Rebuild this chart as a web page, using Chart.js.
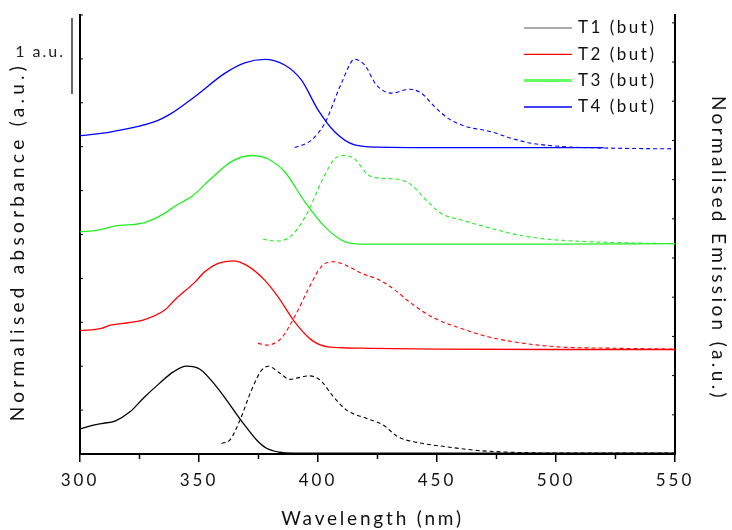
<!DOCTYPE html>
<html>
<head>
<meta charset="utf-8">
<script src="https://cdn.jsdelivr.net/npm/chart.js@4.4.1/dist/chart.umd.min.js"></script>
<style>
  html, body { margin: 0; padding: 0; background: #fff; }
  canvas { display: block; }
</style>
</head>
<body>
<canvas id="spectraCanvas" width="732" height="530"></canvas>
<script>
// series names + colours
const seriesNames = ['T1 (but)', 'T2 (but)', 'T3 (but)', 'T4 (but)'];
const seriesColors = ['#000000', '#ff0000', '#22ee22', '#0000ff'];
const legendColors = ['#555555', '#ff0000', '#66ff66', '#0000ff'];
const legendWidths = [1.2, 1.2, 3, 1.5];

// axis titles
const xTitle = 'Wavelength (nm)';
const yTitle = 'Normalised absorbance (a.u.)';
const y2Title = 'Normalised Emission (a.u.)';

// absorption (solid) - wavelength (nm) / offset normalised absorbance
const t1AbsX = [300, 305.6, 309.7, 314.7, 321, 326.6, 333.6, 339.2, 344.8, 350.4, 357.4, 363, 368.6, 374.2, 378.4, 384, 390, 400, 450, 500, 550];
const t1AbsY = [0.57, 0.66, 0.70, 0.75, 0.96, 1.27, 1.62, 1.87, 2.0, 1.93, 1.53, 1.12, 0.70, 0.32, 0.13, 0.04, 0.02, 0.02, 0.02, 0.02, 0.02];
const t2AbsX = [300, 309, 311.8, 320.2, 326.5, 335.6, 339.8, 348.2, 352.4, 358, 364.3, 370.6, 377.6, 383.2, 390.2, 397.2, 404.2, 418.2, 450, 500, 550];
const t2AbsY = [2.81, 2.86, 2.92, 2.99, 3.05, 3.28, 3.51, 3.91, 4.15, 4.34, 4.40, 4.28, 3.96, 3.58, 3.01, 2.60, 2.44, 2.41, 2.39, 2.38, 2.38];
const t3AbsX = [300, 307.6, 314.6, 327.2, 334.2, 341.2, 346.8, 355.2, 363.6, 372, 379, 386, 394.4, 402.8, 411.2, 419.6, 450, 500, 550];
const t3AbsY = [5.06, 5.10, 5.19, 5.27, 5.44, 5.69, 5.86, 6.28, 6.66, 6.80, 6.72, 6.43, 5.75, 5.18, 4.84, 4.78, 4.78, 4.78, 4.79];
const t4AbsX = [300, 313.2, 331.4, 338.4, 348.2, 360.8, 369.2, 377.6, 386, 393, 400, 407, 415.4, 425.2, 450, 490, 520];
const t4AbsY = [7.25, 7.34, 7.57, 7.76, 8.14, 8.67, 8.91, 8.99, 8.86, 8.52, 7.84, 7.34, 7.04, 6.99, 6.98, 6.98, 6.98];

// emission (dashed)
const t1EmX = [359.5, 363, 367.2, 372.1, 376.3, 379.1, 384, 388.2, 392, 395.9, 400.8, 406.4, 412, 420.5, 427.4, 433.6, 442, 453.2, 467.2, 481.2, 500, 525, 550];
const t1EmY = [0.24, 0.32, 0.77, 1.46, 1.91, 2.0, 1.84, 1.70, 1.74, 1.78, 1.69, 1.31, 1.0, 0.81, 0.66, 0.39, 0.26, 0.17, 0.08, 0.04, 0.02, 0.02, 0.02];
const t2EmX = [374.8, 378.3, 384.6, 390.2, 395.8, 401.4, 406.3, 411.2, 418.2, 426, 432.2, 439.2, 449, 460.2, 471.4, 484, 500.8, 523.2, 550];
const t2EmY = [2.52, 2.48, 2.64, 3.13, 3.74, 4.27, 4.38, 4.31, 4.12, 3.96, 3.74, 3.43, 3.09, 2.86, 2.67, 2.54, 2.44, 2.41, 2.39];
const t3EmX = [376.9, 382.5, 388.8, 395.8, 401.4, 407, 410.5, 415.4, 421, 426.6, 433.6, 439.2, 444.8, 451.8, 460.2, 472.8, 484, 495.2, 512, 530, 550];
const t3EmY = [4.89, 4.85, 4.97, 5.52, 6.20, 6.72, 6.80, 6.72, 6.36, 6.28, 6.26, 6.13, 5.82, 5.48, 5.33, 5.14, 4.99, 4.90, 4.84, 4.81, 4.79];
const t4EmX = [390.2, 397.2, 402.8, 409.8, 415.4, 419.6, 424.5, 430.8, 438.5, 443.4, 449, 454.6, 461.6, 472.8, 481.2, 489.6, 503.7, 520, 550];
const t4EmY = [6.98, 7.15, 7.53, 8.44, 8.99, 8.86, 8.41, 8.22, 8.31, 8.22, 7.91, 7.65, 7.47, 7.34, 7.19, 7.08, 7.00, 6.97, 6.95];

// "1 a.u." scale bar, in absorbance-axis units
const scaleBar = [8.2, 9.93];
const scaleBarLabel = '1 a.u.';

const FONT = 'Lato, "Open Sans", sans-serif';
const TICK_SPACING = '3px';

function toPoints(xs, ys) {
  return xs.map((x, i) => ({ x: x, y: ys[i] }));
}

const absSets = [[t1AbsX, t1AbsY], [t2AbsX, t2AbsY], [t3AbsX, t3AbsY], [t4AbsX, t4AbsY]];
const emSets = [[t1EmX, t1EmY], [t2EmX, t2EmY], [t3EmX, t3EmY], [t4EmX, t4EmY]];

const datasets = [];
absSets.forEach((s, i) => {
  datasets.push({
    label: seriesNames[i],
    data: toPoints(s[0], s[1]),
    borderColor: seriesColors[i],
    borderWidth: 1.3,
    pointRadius: 0,
    cubicInterpolationMode: 'monotone',
    fill: false
  });
});
emSets.forEach((s, i) => {
  datasets.push({
    label: seriesNames[i] + ' emission',
    data: toPoints(s[0], s[1]),
    borderColor: seriesColors[i],
    borderWidth: 1.1,
    borderDash: [4, 3],
    pointRadius: 0,
    cubicInterpolationMode: 'monotone',
    fill: false
  });
});

// letter spacing on the canvas (canvas state gets reset on resize)
const spacingPlugin = {
  id: 'spacing',
  beforeUpdate(chart) { chart.ctx.letterSpacing = TICK_SPACING; },
  beforeLayout(chart) { chart.ctx.letterSpacing = TICK_SPACING; },
  beforeDraw(chart) { chart.ctx.letterSpacing = TICK_SPACING; }
};

function spacedText(ctx, text, x, y, rot, size, spacing) {
  ctx.save();
  ctx.translate(x, y);
  ctx.rotate(rot);
  ctx.font = size + 'px ' + FONT;
  ctx.letterSpacing = spacing;
  ctx.fillStyle = '#111';
  ctx.textAlign = 'center';
  ctx.textBaseline = 'middle';
  ctx.fillText(text, 0, 0);
  ctx.restore();
}

// titles, small inner ticks on y axes, short minor ticks on x, scale bar, legend
const extrasPlugin = {
  id: 'extras',
  afterDraw(chart) {
    const ctx = chart.ctx;
    const area = chart.chartArea;
    const xs = chart.scales.x, ys = chart.scales.y, y2 = chart.scales.y2;

    spacedText(ctx, xTitle, (area.left + area.right) / 2 - 5, 519, 0, 19, '2.8px');
    spacedText(ctx, yTitle, 18, (area.top + area.bottom) / 2 + 7, -Math.PI / 2, 19, '4.3px');
    spacedText(ctx, y2Title, 718, (area.top + area.bottom) / 2 + 14, Math.PI / 2, 19, '3.4px');

    ctx.save();
    ctx.strokeStyle = '#000';
    ctx.lineWidth = 1;
    for (let v = ys.min; v <= ys.max; v++) {
      const py = ys.getPixelForValue(v);
      ctx.beginPath(); ctx.moveTo(area.left, py); ctx.lineTo(area.left + 3, py); ctx.stroke();
    }
    for (let v = y2.min; v <= y2.max; v++) {
      const py = y2.getPixelForValue(v);
      ctx.beginPath(); ctx.moveTo(area.right, py); ctx.lineTo(area.right - 3, py); ctx.stroke();
    }
    ctx.lineWidth = 1.5;
    for (let v = xs.min + 25; v < xs.max; v += 50) {
      const px = xs.getPixelForValue(v);
      ctx.beginPath(); ctx.moveTo(px, area.bottom); ctx.lineTo(px, area.bottom + 5); ctx.stroke();
    }

    // scale bar
    const bx = area.left - 8;
    const b0 = ys.getPixelForValue(scaleBar[0]);
    const b1 = ys.getPixelForValue(scaleBar[1]);
    ctx.lineWidth = 1.2;
    ctx.beginPath(); ctx.moveTo(bx, b0); ctx.lineTo(bx, b1); ctx.stroke();
    ctx.font = '16px ' + FONT;
    ctx.letterSpacing = '2px';
    ctx.fillStyle = '#222';
    ctx.textAlign = 'right';
    ctx.textBaseline = 'middle';
    ctx.fillText(scaleBarLabel, bx - 7, (b0 + b1) / 2 - 4);

    // legend
    ctx.font = '17px ' + FONT;
    ctx.letterSpacing = '2.5px';
    ctx.textAlign = 'left';
    for (let i = 0; i < seriesNames.length; i++) {
      const ly = area.top + 13 + i * 26.3;
      ctx.strokeStyle = legendColors[i];
      ctx.lineWidth = legendWidths[i];
      ctx.beginPath(); ctx.moveTo(area.right - 151, ly); ctx.lineTo(area.right - 103, ly); ctx.stroke();
      ctx.fillStyle = '#111';
      ctx.fillText(seriesNames[i], area.right - 97, ly);
    }
    ctx.restore();
  }
};

const ctx = document.getElementById('spectraCanvas').getContext('2d');
new Chart(ctx, {
  type: 'line',
  data: { datasets: datasets },
  plugins: [spacingPlugin, extrasPlugin],
  options: {
    responsive: false,
    animation: false,
    layout: { padding: { top: 15, left: 0, right: 0, bottom: 0 } },
    plugins: {
      legend: { display: false },
      tooltip: { enabled: false }
    },
    scales: {
      x: {
        type: 'linear',
        min: 300,
        max: 550,
        border: { display: true, color: '#000', width: 2 },
        grid: { drawOnChartArea: false, drawTicks: true, tickLength: 8, color: '#000', lineWidth: 1.5 },
        ticks: { stepSize: 50, color: '#111', padding: 8, font: { family: FONT, size: 17 } },
        afterFit(scale) { scale.height = 76; }
      },
      y: {
        position: 'left',
        min: 0,
        max: 10,
        border: { display: true, color: '#000', width: 2 },
        grid: { display: false },
        ticks: { display: false },
        afterFit(scale) { scale.width = 80; }
      },
      y2: {
        position: 'right',
        min: 0,
        max: 11.2,
        border: { display: true, color: '#000', width: 2 },
        grid: { display: false },
        ticks: { display: false },
        afterFit(scale) { scale.width = 57; }
      }
    }
  }
});
</script>
</body>
</html>
